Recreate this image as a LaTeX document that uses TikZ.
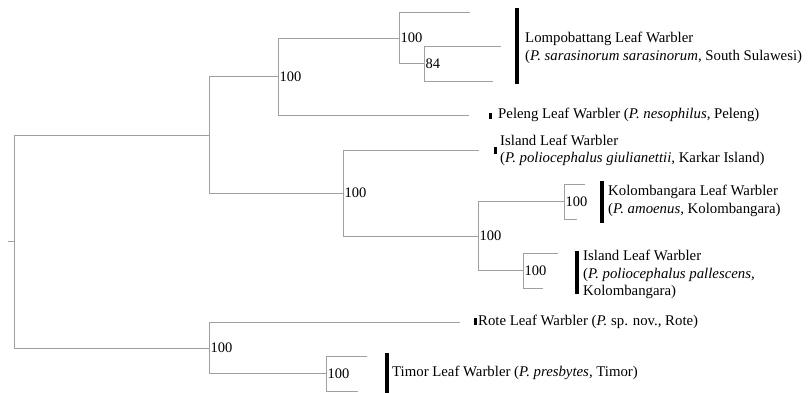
\documentclass[tikz,border=0pt]{standalone}
\usepackage{fontspec}
\setmainfont{Liberation Serif}
\definecolor{treegray}{RGB}{160,160,160}
\begin{document}
\begin{tikzpicture}[x=1pt,y=-1pt,
  br/.style={draw=treegray, line width=0.9pt},
  sup/.style={anchor=west, inner sep=0pt, font=\fontsize{14.5}{17.5}\selectfont},
  taxon/.style={anchor=west, inner sep=0pt, align=left, font=\fontsize{14.8}{17.5}\selectfont},
  bar/.style={fill=black, draw=none}]
\useasboundingbox (0,0) rectangle (811,393);
% internal nodes
\coordinate (root0) at (8,241.5);
\coordinate (R) at (14,241.5);
\coordinate (A) at (209,135);
\coordinate (B) at (278,76.5);
\coordinate (C) at (399,38);
\coordinate (D) at (424,63.5);
\coordinate (E) at (343,193);
\coordinate (F) at (478,236);
\coordinate (G) at (564,201.5);
\coordinate (H) at (523,270.5);
\coordinate (I) at (209,348);
\coordinate (J) at (326,373.5);
% tips
\coordinate (t1) at (470,12);
\coordinate (t2) at (501,46);
\coordinate (t3) at (493,81);
\coordinate (t4) at (469,115);
\coordinate (t5) at (479,150);
\coordinate (t6) at (585,184);
\coordinate (t7) at (577,219);
\coordinate (t8) at (558,253);
\coordinate (t9) at (543,288);
\coordinate (t10) at (460,322);
\coordinate (t11) at (367,356);
\coordinate (t12) at (358,391);
% branches
\draw[br] (root0) -- (R);
\foreach \p/\c in {R/A,R/I,A/B,A/E,B/C,B/t4,C/t1,C/D,D/t2,D/t3,E/t5,E/F,F/G,F/H,G/t6,G/t7,H/t8,H/t9,I/t10,I/J,J/t11,J/t12}
  \draw[br] (\p) |- (\c);
% support values
\node[sup] (sB) at ([xshift=1.5pt]B) {100};
\node[sup] (sC) at ([xshift=1.5pt]C) {100};
\node[sup] (sD) at ([xshift=1.5pt]D) {84};
\node[sup] (sE) at ([xshift=1.5pt]E) {100};
\node[sup] (sF) at ([xshift=1.5pt]F) {100};
\node[sup] (sG) at ([xshift=1.5pt]G) {100};
\node[sup] (sH) at ([xshift=1.5pt]H) {100};
\node[sup] (sI) at ([xshift=1.5pt]I) {100};
\node[sup] (sJ) at ([xshift=1.5pt]J) {100};
% clade bars
\fill[bar] (515,8) rectangle (519,84);
\fill[bar] (489,113) rectangle (492,119);
\fill[bar] (494,147) rectangle (497,154);
\fill[bar] (600,181) rectangle (604,223);
\fill[bar] (574.5,251) rectangle (578.5,294);
\fill[bar] (474,318) rectangle (477,325);
\fill[bar] (385,353) rectangle (389,393);
% taxon labels
\node[taxon] (lompo) at (525,48) {Lompobattang Leaf Warbler\\(\textit{P. sarasinorum sarasinorum,} South Sulawesi)};
\node[taxon] (peleng) at (498,115) {Peleng Leaf Warbler (\textit{P. nesophilus,} Peleng)};
\node[taxon] (giul) at (500,150.5) {Island Leaf Warbler\\(\textit{P. poliocephalus giulianettii,} Karkar Island)};
\node[taxon] (kolo) at (608,201) {Kolombangara Leaf Warbler\\(\textit{P. amoenus,} Kolombangara)};
\node[taxon] (palles) at (583,274.5) {Island Leaf Warbler\\(\textit{P. poliocephalus pallescens,}\\Kolombangara)};
\node[taxon] (rote) at (478,322) {Rote Leaf Warbler (\textit{P.} sp. nov., Rote)};
\node[taxon] (timor) at (392,373) {Timor Leaf Warbler (\textit{P. presbytes,} Timor)};
\end{tikzpicture}
\end{document}
